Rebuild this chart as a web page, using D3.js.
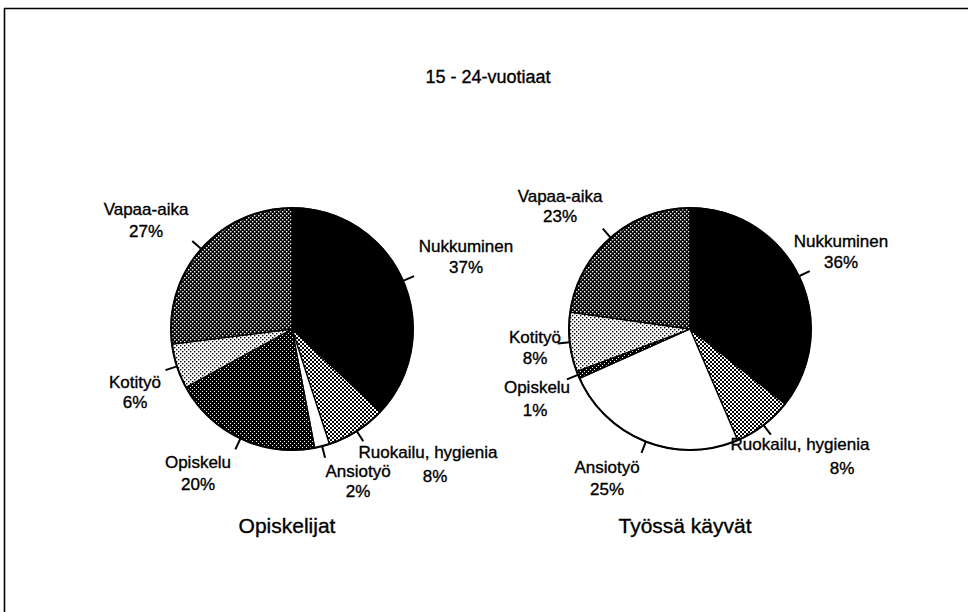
<!DOCTYPE html>
<html><head><meta charset="utf-8">
<script src="https://cdn.jsdelivr.net/npm/d3@7"></script>
<style>
html,body{margin:0;padding:0;background:#fff;}
svg{display:block;font-family:"Liberation Sans",Arial,Helvetica,sans-serif;}
text{fill:#000;stroke:#000;stroke-width:0.35px;}
</style></head>
<body>
<svg id="chart" width="968" height="612"></svg>
<script>
// ---- data ----
const title = "15 - 24-vuotiaat";
const categories = ["Nukkuminen", "Ruokailu, hygienia", "Ansiotyö", "Opiskelu", "Kotityö", "Vapaa-aika"];
const groups = ["Opiskelijat", "Työssä käyvät"];
const opiskelijatValues = [37, 8, 2, 20, 6, 27];
const tyossaValues = [36, 8, 25, 1, 8, 23];
const valueLabelsOpiskelijat = ["37%", "8%", "2%", "20%", "6%", "27%"];
const valueLabelsTyossa = ["36%", "8%", "25%", "1%", "8%", "23%"];

// ---- layout (positions, not data) ----
const W = 968, H = 612;
const pies = [
  {cx: 292, cy: 329, r: 121, values: opiskelijatValues, labels: valueLabelsOpiskelijat, name: groups[0], nameX: 287,
   // label offsets relative to centre: [dx line1, dy line1, dx line2, dy line2]
   off: [[174,-77,174,-56],[136,129,143,153],[66,148,66,168],[-94,139,-94,161],[-157,59,-157,79],[-146,-114,-146,-92]]},
  {cx: 690, cy: 329, r: 121, values: tyossaValues, labels: valueLabelsTyossa, name: groups[1], nameX: 685,
   off: [[151,-82,151,-61],[110,121,152,145],[-83,144,-83,166],[-153,64,-155,87],[-155,14,-155,35],[-130,-127,-130,-107]]}
];
const fills = ["#000", "url(#pRuok)", "#fff", "url(#pOpis)", "url(#pKoti)", "url(#pVapaa)"];

const svg = d3.select("#chart");
const defs = svg.append("defs");
function pat(id, bg, fg, s, size) {
  const p = defs.append("pattern").attr("id", id).attr("patternUnits", "userSpaceOnUse")
    .attr("width", size).attr("height", size);
  p.append("rect").attr("width", size).attr("height", size).attr("fill", bg);
  p.append("rect").attr("x", 0).attr("y", 0).attr("width", s).attr("height", s).attr("fill", fg);
  p.append("rect").attr("x", size/2).attr("y", size/2).attr("width", s).attr("height", s).attr("fill", fg);
}
pat("pVapaa", "#000", "#fff", 1.4, 4);
pat("pRuok", "#fff", "#000", 2, 4);
pat("pOpis", "#000", "#fff", 1, 4);
pat("pKoti", "#fff", "#000", 1.4, 4);

svg.append("rect").attr("width", W).attr("height", H).attr("fill", "#fff");
// frame
svg.append("path").attr("d", `M4.5,612 L4.5,8.5 L968,8.5`).attr("fill", "none").attr("stroke", "#000").attr("stroke-width", 1.6);

svg.append("text").attr("x", 488).attr("y", 83).attr("text-anchor", "middle")
  .attr("font-size", 18).text(title);

const pie = d3.pie().sort(null).value(d => d);
pies.forEach(P => {
  const g = svg.append("g").attr("transform", `translate(${P.cx},${P.cy})`);
  const arcs = pie(P.values);
  const arc = d3.arc().innerRadius(0).outerRadius(P.r);
  g.selectAll("path.slice").data(arcs).enter().append("path")
    .attr("class", "slice").attr("d", arc)
    .attr("fill", (d, i) => fills[i]).attr("stroke", "#000").attr("stroke-width", 1.3)
    .attr("stroke-linejoin", "round");
  g.append("circle").attr("r", P.r).attr("fill", "none").attr("stroke", "#000").attr("stroke-width", 2);
  // ticks
  g.selectAll("line.tick").data(arcs).enter().append("line")
    .attr("x1", d => Math.sin((d.startAngle + d.endAngle) / 2) * P.r)
    .attr("y1", d => -Math.cos((d.startAngle + d.endAngle) / 2) * P.r)
    .attr("x2", d => Math.sin((d.startAngle + d.endAngle) / 2) * (P.r + 12))
    .attr("y2", d => -Math.cos((d.startAngle + d.endAngle) / 2) * (P.r + 12))
    .attr("stroke", "#000").attr("stroke-width", 2);
  // labels
  arcs.forEach((d, i) => {
    const o = P.off[i];
    g.append("text").attr("x", o[0]).attr("y", o[1]).attr("text-anchor", "middle")
      .attr("font-size", 17).text(categories[i]);
    g.append("text").attr("x", o[2]).attr("y", o[3]).attr("text-anchor", "middle")
      .attr("font-size", 17).text(P.labels[i]);
  });
  svg.append("text").attr("x", P.nameX).attr("y", 533).attr("text-anchor", "middle")
    .attr("font-size", 21).text(P.name);
});
</script>
</body></html>
